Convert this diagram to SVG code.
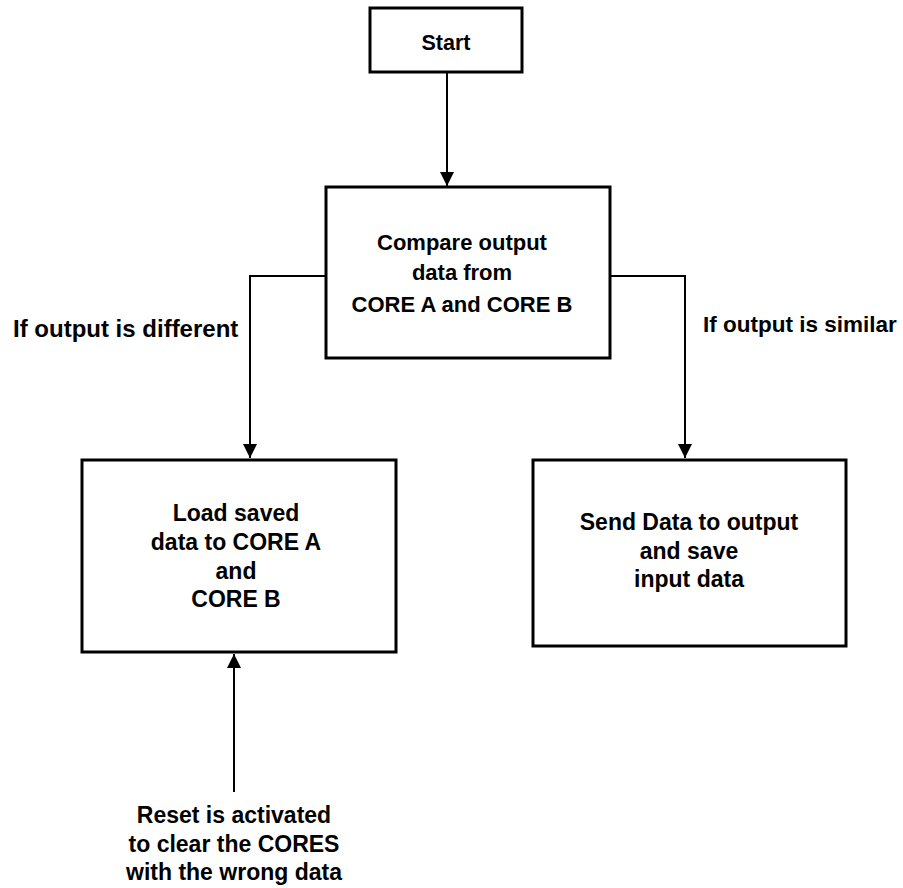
<svg xmlns="http://www.w3.org/2000/svg" width="903" height="888" viewBox="0 0 903 888">
<style>
.box{fill:#fff;stroke:#000;stroke-width:3}
.ln{fill:none;stroke:#000;stroke-width:2}
text{font-family:"Liberation Sans",Arial,sans-serif;font-weight:bold;fill:#000;font-size:22px}
.c{text-anchor:middle}
</style>
<defs>
<marker id="ah" markerUnits="userSpaceOnUse" markerWidth="14" markerHeight="14" viewBox="0 0 14 14" refX="14" refY="7" orient="auto">
<path d="M0,0 L14,7 L0,14 Z" fill="#000"/>
</marker>
</defs>
<g id="connectors">
<line class="ln" x1="447" y1="72" x2="447" y2="186" marker-end="url(#ah)"/>
<polyline class="ln" points="326,276 250,276 250,458" marker-end="url(#ah)"/>
<polyline class="ln" points="610,276 685,276 685,458" marker-end="url(#ah)"/>
<line class="ln" x1="234" y1="792" x2="234" y2="654" marker-end="url(#ah)"/>
</g>
<g id="start">
<rect class="box" x="370" y="8" width="152" height="64"/>
<text class="c" x="446" y="50" style="font-size:21.5px">Start</text>
</g>
<g id="compare">
<rect class="box" x="326" y="187" width="284" height="171"/>
<text class="c" x="462" y="250">Compare output</text>
<text class="c" x="462" y="280">data from</text>
<text class="c" x="462" y="312">CORE A and CORE B</text>
</g>
<g id="label-different">
<text x="13" y="337" style="font-size:24px">If output is different</text>
</g>
<g id="label-similar">
<text x="703" y="332" style="font-size:22.5px">If output is similar</text>
</g>
<g id="load">
<rect class="box" x="82" y="460" width="314" height="192"/>
<text class="c" x="236" y="521" style="font-size:23px">Load saved</text>
<text class="c" x="236" y="550" style="font-size:23px">data to CORE A</text>
<text class="c" x="236" y="579" style="font-size:23px">and</text>
<text class="c" x="236" y="607" style="font-size:23px">CORE B</text>
</g>
<g id="send">
<rect class="box" x="533" y="460" width="313" height="186"/>
<text class="c" x="689" y="530" style="font-size:23px">Send Data to output</text>
<text class="c" x="689" y="559" style="font-size:23px">and save</text>
<text class="c" x="689" y="587" style="font-size:23px">input data</text>
</g>
<g id="reset">
<text class="c" x="234" y="823" style="font-size:23px">Reset is activated</text>
<text class="c" x="234" y="852" style="font-size:23px">to clear the CORES</text>
<text class="c" x="234" y="880" style="font-size:23px">with the wrong data</text>
</g>
</svg>
